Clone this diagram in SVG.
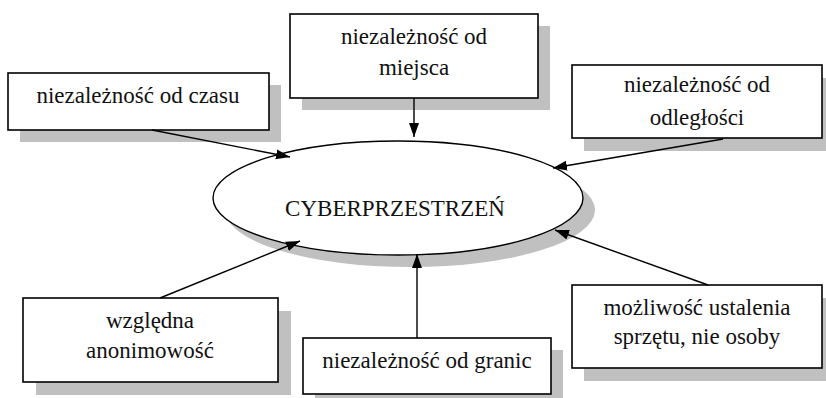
<svg xmlns="http://www.w3.org/2000/svg" width="826" height="398" viewBox="0 0 826 398" font-family="'Liberation Serif', Tinos, 'Times New Roman', 'DejaVu Serif', serif">
<defs>
<marker id="ah" markerWidth="15" markerHeight="11" refX="14" refY="5" orient="auto" markerUnits="userSpaceOnUse">
<path d="M0,0 L14,5 L0,10 z" fill="#000"/>
</marker>
<style>
.sh{fill:#c0c0c0;stroke:none}
.bx{fill:#fff;stroke:#000;stroke-width:1.6}
text{font-family:'Liberation Serif', Tinos, 'Times New Roman', 'DejaVu Serif', serif;font-size:23px;fill:#111;text-anchor:middle}
.c{stroke:#000;stroke-width:1.4;fill:none;marker-end:url(#ah)}
</style>
</defs>
<rect width="826" height="398" fill="#fff"/>
<g id="center">
<ellipse class="sh" cx="410" cy="210" rx="185" ry="57"/>
<ellipse cx="398" cy="198" rx="185" ry="57" fill="#fff" stroke="#000" stroke-width="1.4"/>
<text x="395" y="216">CYBERPRZESTRZEŃ</text>
</g>
<g id="n-czas">
<rect class="sh" x="20" y="85" width="261" height="57"/>
<rect class="bx" x="8" y="73" width="261" height="57"/>
<text x="138" y="103">niezależność od czasu</text>
</g>
<g id="n-miejsce">
<rect class="sh" x="302" y="26" width="248" height="84"/>
<rect class="bx" x="290" y="14" width="248" height="84"/>
<text x="414" y="44">niezależność od</text>
<text x="414" y="75">miejsca</text>
</g>
<g id="n-odleglosc">
<rect class="sh" x="584" y="78" width="250" height="73"/>
<rect class="bx" x="572" y="65" width="250" height="73"/>
<text x="697" y="92">niezależność od</text>
<text x="697" y="125">odległości</text>
</g>
<g id="n-anonim">
<rect class="sh" x="36" y="311" width="255" height="84"/>
<rect class="bx" x="23" y="298" width="255" height="84"/>
<text x="150" y="328">względna</text>
<text x="150" y="358">anonimowość</text>
</g>
<g id="n-granice">
<rect class="sh" x="315" y="350" width="248" height="56"/>
<rect class="bx" x="303" y="338" width="248" height="56"/>
<text x="427" y="368">niezależność od granic</text>
</g>
<g id="n-sprzet">
<rect class="sh" x="584" y="298" width="250" height="83"/>
<rect class="bx" x="572" y="285" width="250" height="83"/>
<text x="697" y="315">możliwość ustalenia</text>
<text x="697" y="344">sprzętu, nie osoby</text>
</g>
<g id="connectors">
<line class="c" x1="152" y1="130" x2="290" y2="157"/>
<line class="c" x1="414" y1="98" x2="414" y2="137"/>
<line class="c" x1="723" y1="139" x2="553" y2="168"/>
<line class="c" x1="160" y1="298" x2="300" y2="241"/>
<line class="c" x1="417" y1="338" x2="417" y2="254"/>
<line class="c" x1="708" y1="285" x2="555" y2="230"/>
</g>
</svg>
